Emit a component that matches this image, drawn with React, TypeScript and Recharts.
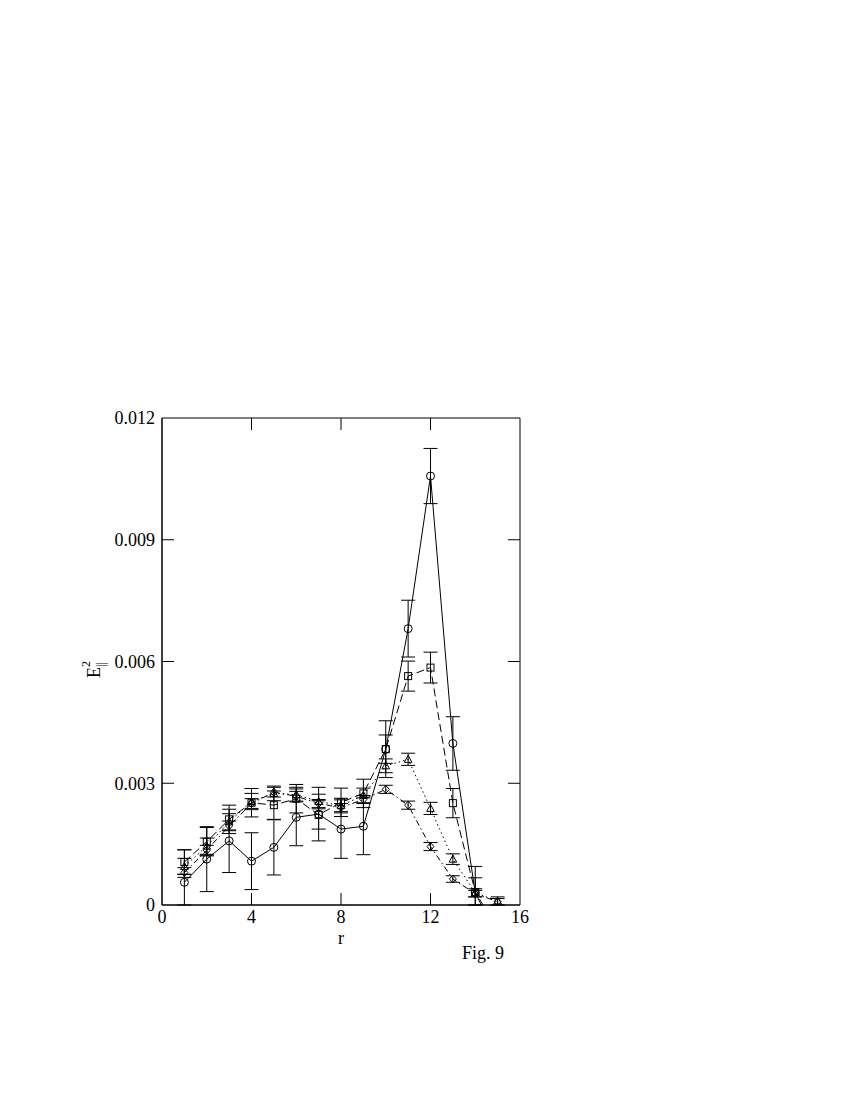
import { ComposedChart, Line, XAxis, YAxis, ErrorBar, ReferenceArea } from 'recharts';

const rValues = [1, 2, 3, 4, 5, 6, 7, 8, 9, 10, 11, 12, 13, 14, 15];

const circleE = [0.00056, 0.00113, 0.00158, 0.00108, 0.00142, 0.00216, 0.00224, 0.00187, 0.00194, 0.00384, 0.00681, 0.01057, 0.00398, 0.0003, -0.0008];
const circleErr = [0.0008, 0.0008, 0.00078, 0.0007, 0.00068, 0.0007, 0.00066, 0.00072, 0.0007, 0.0007, 0.0007, 0.00068, 0.00066, 0.00065, 0.0006];

const squareE = [0.00106, 0.00156, 0.00211, 0.00252, 0.00246, 0.00262, 0.00222, 0.00253, 0.00275, 0.00384, 0.00564, 0.00585, 0.00251, 0.00032, -0.0006];
const squareErr = [0.0003, 0.00035, 0.00035, 0.00035, 0.00035, 0.00035, 0.00035, 0.00035, 0.00035, 0.00035, 0.00037, 0.00038, 0.00036, 0.00035, 0.0003];

const triangleE = [0.00095, 0.00145, 0.00205, 0.00255, 0.00275, 0.00272, 0.00255, 0.00245, 0.0027, 0.00343, 0.00359, 0.00238, 0.00113, 0.0003, 0.0001];
const triangleErr = [0.0002, 0.0002, 0.0002, 0.0002, 0.00018, 0.00018, 0.00018, 0.00018, 0.00018, 0.00017, 0.00015, 0.00015, 0.00013, 0.0001, 0.0001];

const diamondE = [0.0008, 0.00135, 0.00195, 0.0025, 0.00278, 0.00268, 0.0025, 0.0024, 0.0026, 0.00285, 0.00246, 0.00144, 0.00064, 0.00028, 0.00008];
const diamondErr = [0.00012, 0.00012, 0.00012, 0.00012, 0.00012, 0.00012, 0.0001, 0.0001, 0.0001, 0.0001, 0.0001, 0.0001, 0.00008, 0.00008, 0.00008];

const xTicks = [0, 4, 8, 12, 16];
const yTicks = [0, 0.003, 0.006, 0.009, 0.012];

// error bars are cut at the x axis like the plot frame does; points below it get none
const clipErr = (v: number, e: number) => (v < 0 ? null : [Math.min(e, v), e]);

const data = rValues.map((r, i) => ({
  r,
  circle: circleE[i],
  circleErr: clipErr(circleE[i], circleErr[i]),
  square: squareE[i],
  squareErr: clipErr(squareE[i], squareErr[i]),
  triangle: triangleE[i],
  triangleErr: clipErr(triangleE[i], triangleErr[i]),
  diamond: diamondE[i],
  diamondErr: clipErr(diamondE[i], diamondErr[i]),
}));

const FONT = '"Liberation Serif", "Times New Roman", serif';
const PLOT_W = 358;
const PLOT_H = 487;
const TICK = 12;

const BottomTick = (props: any) => {
  const { x, y, payload, index } = props;
  const inner = index !== 0 && index !== xTicks.length - 1;
  return (
    <g>
      {inner && <line x1={x} y1={y} x2={x} y2={y - TICK} stroke="#000" />}
      {inner && <line x1={x} y1={y - PLOT_H} x2={x} y2={y - PLOT_H + TICK} stroke="#000" />}
      <text x={x} y={y + 18} textAnchor="middle" fontFamily={FONT} fontSize={18} fill="#000">
        {payload.value}
      </text>
    </g>
  );
};

const LeftTick = (props: any) => {
  const { x, y, payload, index } = props;
  const inner = index !== 0 && index !== yTicks.length - 1;
  const v = payload.value;
  return (
    <g>
      {inner && <line x1={x} y1={y} x2={x + TICK} y2={y} stroke="#000" />}
      {inner && <line x1={x + PLOT_W} y1={y} x2={x + PLOT_W - TICK} y2={y} stroke="#000" />}
      <text x={x - 7} y={y} dy="0.35em" textAnchor="end" fontFamily={FONT} fontSize={18} fill="#000">
        {v === 0 ? '0' : v.toFixed(3)}
      </text>
    </g>
  );
};

const circleDot = (p: any) => (
  <circle key={p.key} cx={p.cx} cy={p.cy} r={4} fill="none" stroke="#000" />
);
const squareDot = (p: any) => (
  <rect key={p.key} x={p.cx - 3.5} y={p.cy - 3.5} width={7} height={7} fill="none" stroke="#000" />
);
const triangleDot = (p: any) => (
  <polygon key={p.key} points={`${p.cx},${p.cy - 4} ${p.cx - 3.8},${p.cy + 3} ${p.cx + 3.8},${p.cy + 3}`} fill="none" stroke="#000" />
);
const diamondDot = (p: any) => (
  <polygon key={p.key} points={`${p.cx},${p.cy - 4} ${p.cx + 3.5},${p.cy} ${p.cx},${p.cy + 4} ${p.cx - 3.5},${p.cy}`} fill="none" stroke="#000" />
);

export default function App() {
  return (
    <div style={{ position: 'absolute', left: 0, top: 0, width: 850, height: 1100, background: '#fff' }}>
      <ComposedChart width={850} height={1100} data={data} margin={{ top: 418, left: 102, right: 330, bottom: 155 }}>
        <XAxis
          dataKey="r"
          type="number"
          domain={[0, 16]}
          ticks={xTicks}
          interval={0}
          height={40}
          tickSize={0}
          tickMargin={0}
          axisLine={{ stroke: '#000' }}
          tickLine={false}
          tick={BottomTick}
          allowDataOverflow
        />
        <YAxis
          type="number"
          domain={[0, 0.012]}
          ticks={yTicks}
          interval={0}
          width={60}
          tickSize={0}
          tickMargin={0}
          axisLine={{ stroke: '#000' }}
          tickLine={false}
          tick={LeftTick}
          allowDataOverflow
        />
        <ReferenceArea x1={0} x2={16} y1={0} y2={0.012} fill="none" stroke="#000" />
        <Line dataKey="circle" stroke="#000" strokeWidth={1} dot={circleDot} isAnimationActive={false}>
          <ErrorBar dataKey="circleErr" direction="y" width={7} stroke="#000" strokeWidth={1} />
        </Line>
        <Line dataKey="square" stroke="#000" strokeWidth={1} strokeDasharray="8 4" dot={squareDot} isAnimationActive={false}>
          <ErrorBar dataKey="squareErr" direction="y" width={7} stroke="#000" strokeWidth={1} />
        </Line>
        <Line dataKey="triangle" stroke="#000" strokeWidth={1} strokeDasharray="1.5 3" dot={triangleDot} isAnimationActive={false}>
          <ErrorBar dataKey="triangleErr" direction="y" width={7} stroke="#000" strokeWidth={1} />
        </Line>
        <Line dataKey="diamond" stroke="#000" strokeWidth={1} strokeDasharray="6 3 1.5 3" dot={diamondDot} isAnimationActive={false}>
          <ErrorBar dataKey="diamondErr" direction="y" width={7} stroke="#000" strokeWidth={1} />
        </Line>
      </ComposedChart>
      <svg width={850} height={1100} style={{ position: 'absolute', left: 0, top: 0, pointerEvents: 'none' }}>
        <text x={341} y={944} textAnchor="middle" fontFamily={FONT} fontSize={18} fill="#000">r</text>
        <text transform="rotate(-90 100 678)" x={100} y={678} fontFamily={FONT} fontSize={18} fill="#000">
          E
          <tspan dy={-10} fontSize={12}>2</tspan>
          <tspan dx={-6} dy={15} fontSize={12}>||</tspan>
        </text>
        <text x={462} y={959} fontFamily={FONT} fontSize={18} fill="#000">Fig. 9</text>
      </svg>
    </div>
  );
}
